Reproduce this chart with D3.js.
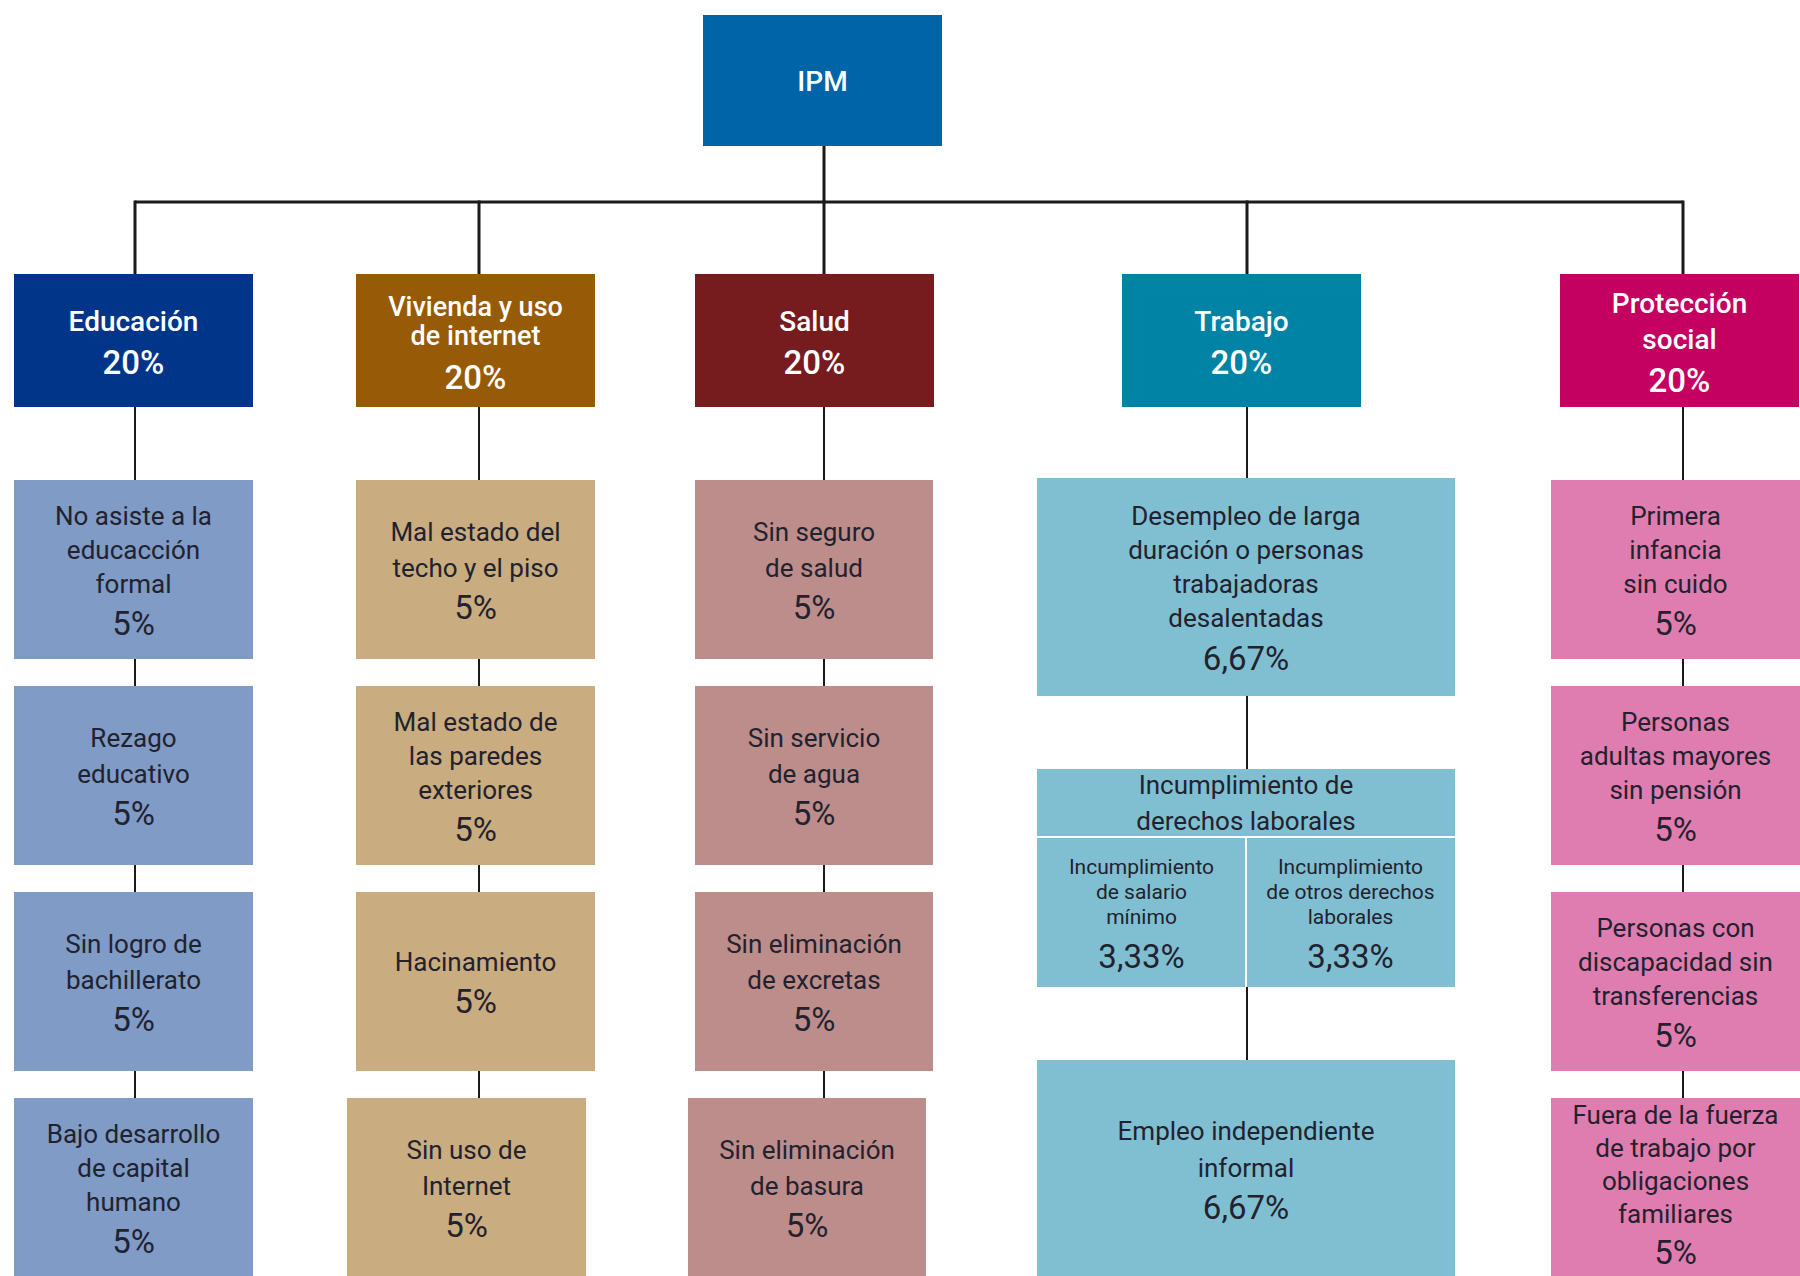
<!DOCTYPE html>
<html>
<head>
<meta charset="utf-8">
<script src="https://cdn.jsdelivr.net/npm/d3@7"></script>
<style>
  body { margin: 0; background: #fff; }
  svg text { font-family: Roboto, "Noto Sans", sans-serif; text-anchor: middle; }
</style>
</head>
<body>
<svg id="chart"></svg>
<script>
var width = 1800,
    height = 1276;

// Data
var root = "IPM";
var dimensions = ["Educación", "Vivienda y uso de internet", "Salud", "Trabajo", "Protección social"];
var dimensionLabels = [["Educación"], ["Vivienda y uso", "de internet"], ["Salud"], ["Trabajo"], ["Protección", "social"]];
var dimensionWeights = [20, 20, 20, 20, 20];

var educacion = [["No asiste a la", "educacción", "formal"], ["Rezago", "educativo"], ["Sin logro de", "bachillerato"], ["Bajo desarrollo", "de capital", "humano"]];
var educacionWeights = [5, 5, 5, 5];
var vivienda = [["Mal estado del", "techo y el piso"], ["Mal estado de", "las paredes", "exteriores"], ["Hacinamiento"], ["Sin uso de", "Internet"]];
var viviendaWeights = [5, 5, 5, 5];
var salud = [["Sin seguro", "de salud"], ["Sin servicio", "de agua"], ["Sin eliminación", "de excretas"], ["Sin eliminación", "de basura"]];
var saludWeights = [5, 5, 5, 5];
var trabajo = [["Desempleo de larga", "duración o personas", "trabajadoras", "desalentadas"], ["Incumplimiento de", "derechos laborales"], ["Empleo independiente", "informal"]];
var trabajoWeights = [6.67, 6.67, 6.67];
var incumplimiento = [["Incumplimiento", "de salario", "mínimo"], ["Incumplimiento", "de otros derechos", "laborales"]];
var incumplimientoWeights = [3.33, 3.33];
var proteccion = [["Primera", "infancia", "sin cuido"], ["Personas", "adultas mayores", "sin pensión"], ["Personas con", "discapacidad sin", "transferencias"], ["Fuera de la fuerza", "de trabajo por", "obligaciones", "familiares"]];
var proteccionWeights = [5, 5, 5, 5];

var children = [educacion, vivienda, salud, trabajo, proteccion];
var childWeights = [educacionWeights, viviendaWeights, saludWeights, trabajoWeights, proteccionWeights];

// Colours
var darkColor = d3.scaleOrdinal().domain(dimensions)
    .range(["#00358a", "#975a07", "#761c1f", "#0083a4", "#c40060"]);
var lightColor = d3.scaleOrdinal().domain(dimensions)
    .range(["#7f9bc6", "#c9ac80", "#bc8d8b", "#80bfd1", "#e07db0"]);

var es = d3.formatLocale({decimal: ",", thousands: ".", grouping: [3], currency: ["", ""]});
function pct(v) { return (Number.isInteger(v) ? v : es.format(".2f")(v)) + "%"; }

// Layout scales
var boxX = d3.scaleOrdinal().domain(dimensions).range([14, 356, 695, 1122, 1560]);
var lineX = d3.scaleOrdinal().domain(dimensions).range([135, 479, 824, 1247, 1683]);
var childX = d3.scaleOrdinal().domain(dimensions).range([14, 356, 695, 1037, 1551]);
var childW = d3.scaleOrdinal().domain(dimensions).range([239, 239, 238, 418, 249]);
var lastShift = d3.scaleOrdinal().domain(dimensions).range([0, -9, -7, 0, 0]);
var boxW = 239;

var top1 = 274, h1 = 133, busY = 202;
var rowY = d3.scaleBand().domain([0, 1, 2, 3]).range([480, 1277]).paddingInner(0.131);
var trabajoY = d3.scaleBand().domain([0, 1, 2]).range([478, 1278]).paddingInner(0.251);

var svg = d3.select("#chart")
    .attr("width", width)
    .attr("height", height);

var lines = svg.append("g").attr("stroke", "#1a1a1a").attr("fill", "none");
var boxes = svg.append("g");
var labels = svg.append("g");

// text block centred in a box
function label(cx, cy, textLines, value, o) {
  var n = textLines.length;
  var span = (n - 1) * o.lh + (value != null ? o.gap : 0);
  var y0 = cy - span / 2;
  var g = labels.append("g").style("fill", o.color).style("font-weight", o.weight);
  textLines.forEach(function(t, i) {
    g.append("text")
      .attr("x", cx).attr("y", y0 + i * o.lh).attr("dy", "0.36em")
      .style("font-size", o.size + "px")
      .text(t);
  });
  if (value != null) {
    g.append("text")
      .attr("x", cx).attr("y", y0 + (n - 1) * o.lh + o.gap).attr("dy", "0.36em")
      .style("font-size", o.pctSize + "px")
      .text(pct(value));
  }
}

var topStyle = {size: 28, pctSize: 33, lh: 36, gap: 42, color: "#ffffff", weight: 500};
var childStyle = {size: 26, pctSize: 33, lh: 36, gap: 40, color: "#22222e", weight: 400};

// Root box
var ipm = {x: 703, y: 15, w: 239, h: 131};
boxes.append("rect").attr("x", ipm.x).attr("y", ipm.y).attr("width", ipm.w).attr("height", ipm.h).attr("fill", "#0064a9");
label(ipm.x + ipm.w / 2, ipm.y + ipm.h / 2, [root], null, topStyle);

// root connectors
lines.append("line").attr("x1", lineX(dimensions[2])).attr("x2", lineX(dimensions[2]))
    .attr("y1", ipm.y + ipm.h).attr("y2", busY).attr("stroke-width", 3);
lines.append("line").attr("x1", lineX(dimensions[0])).attr("x2", lineX(dimensions[4]))
    .attr("y1", busY).attr("y2", busY).attr("stroke-width", 3);
lines.selectAll(".drop").data(dimensions).enter().append("line")
    .attr("x1", function(d) { return lineX(d); }).attr("x2", function(d) { return lineX(d); })
    .attr("y1", busY - 1.5).attr("y2", top1).attr("stroke-width", 3);

// Dimension boxes
dimensions.forEach(function(d, i) {
  boxes.append("rect")
    .attr("x", boxX(d)).attr("y", top1).attr("width", boxW).attr("height", h1)
    .attr("fill", darkColor(d));
  var st = Object.assign({}, topStyle, d === "Vivienda y uso de internet" ? {lh: 29, size: 27} : {});
  label(boxX(d) + boxW / 2, top1 + h1 / 2 + 1, dimensionLabels[i], dimensionWeights[i], st);

  // vertical connector through the children
  var lastBottom = d === "Trabajo" ? trabajoY(2) : rowY(3);
  lines.append("line").attr("x1", lineX(d)).attr("x2", lineX(d))
    .attr("y1", top1 + h1).attr("y2", lastBottom).attr("stroke-width", 2);

  children[i].forEach(function(c, j) {
    var x = childX(d), w = childW(d), y, h;
    if (d === "Trabajo") { y = trabajoY(j); h = trabajoY.bandwidth(); }
    else { y = rowY(j); h = rowY.bandwidth(); if (j === 3) x += lastShift(d); }
    boxes.append("rect").attr("x", x).attr("y", y).attr("width", w).attr("height", h)
      .attr("fill", lightColor(d));

    if (d === "Trabajo" && j === 1) {
      // header + two sub indicators
      var headH = 68;
      label(x + w / 2, y + headH / 2, c, null, childStyle);
      boxes.append("line").attr("x1", x).attr("x2", x + w).attr("y1", y + headH).attr("y2", y + headH)
        .attr("stroke", "#ffffff").attr("stroke-width", 2);
      boxes.append("line").attr("x1", x + w / 2).attr("x2", x + w / 2).attr("y1", y + headH).attr("y2", y + h)
        .attr("stroke", "#ffffff").attr("stroke-width", 2);
      var subStyle = {size: 21, pctSize: 33, lh: 25, gap: 40, color: "#22222e", weight: 400};
      incumplimiento.forEach(function(s, k) {
        label(x + w / 4 + k * w / 2, y + headH + (h - headH) / 2 - 1, s, incumplimientoWeights[k], subStyle);
      });
    } else {
      var cs = Object.assign({}, childStyle, c.length >= 4 ? {lh: 33, gap: 38} : c.length === 3 ? {lh: 34} : {});
      if (d === "Trabajo") cs = Object.assign({}, childStyle, {lh: c.length > 2 ? 34 : 37});
      label(x + w / 2, y + h / 2 - (c.length >= 4 && d !== "Trabajo" ? 4 : 0), c, childWeights[i][j], cs);
    }
  });
});
</script>
</body>
</html>
